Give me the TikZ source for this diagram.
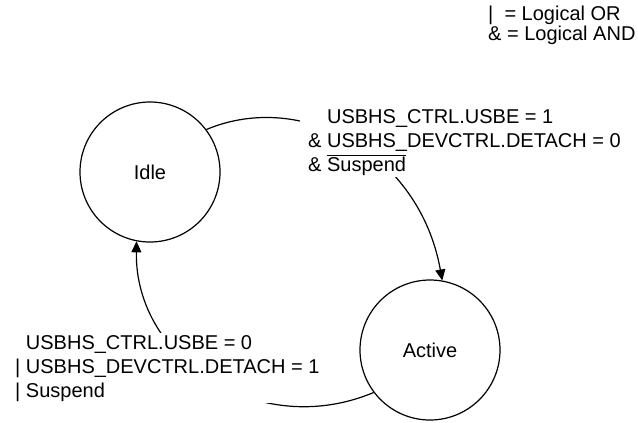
\documentclass[tikz,border=0pt]{standalone}
\usepackage{fontspec}
\setmainfont{Liberation Sans}
\usepackage{tikz}
\usetikzlibrary{arrows.meta, positioning}
\newcommand{\negsig}[1]{$\overline{\mbox{#1}}$}
\tikzset{
  statenode/.style={draw, circle, line width=1.2bp, minimum size=140bp, inner sep=0pt,
                    font=\fontsize{20bp}{24bp}\selectfont},
  condtext/.style={fill=white, align=left, inner xsep=8bp, inner ysep=2bp,
                   font=\fontsize{20bp}{24bp}\selectfont},
  legendtext/.style={align=left, inner sep=0pt, font=\fontsize{20bp}{20bp}\selectfont},
  transarrow/.style={-{Triangle[length=11bp, width=10bp]}, line width=1.2bp}
}

\begin{document}
\begin{tikzpicture}[x=1bp, y=-1bp]
\useasboundingbox (0,0) rectangle (638,422);

% Legend (top right)
\node[legendtext, anchor=north west] (legend) at (488,6) {\textbar\ \ = Logical OR\\\& = Logical AND};

% States
\node[statenode] (idle) at (150,172) {Idle};
\node[statenode] (active) at (430,350) {Active};

% Transitions
\draw[transarrow] (idle.37) .. controls +(95,-40) and +(-23,-128) .. (active.80);
\draw[transarrow] (active.217) .. controls +(-114,48) and +(-2,119) .. (idle.259);

% Conditions (white boxes cover the arcs)
\node[condtext, anchor=north west] (upcond) at (300,107)
  {\hphantom{\&\ }USBHS\_CTRL.USBE = 1\\\& USBHS\_DEVCTRL.DETACH = 0\\\& \negsig{Suspend}};
\node[condtext, anchor=north west] (downcond) at (7,333)
  {\hphantom{\textbar\ }USBHS\_CTRL.USBE = 0\\\textbar\ USBHS\_DEVCTRL.DETACH = 1\\\textbar\ Suspend};

\end{tikzpicture}
\end{document}
